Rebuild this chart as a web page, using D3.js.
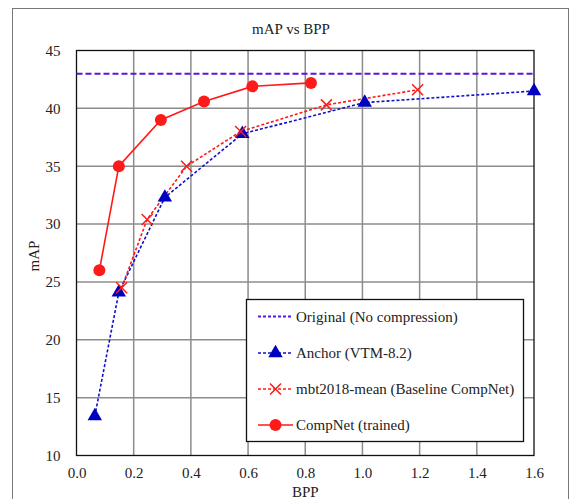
<!DOCTYPE html>
<html><head><meta charset="utf-8">
<script src="https://cdn.jsdelivr.net/npm/d3@7"></script>
<style>body{margin:0;background:#fff;} svg{display:block;} text{font-family:"Liberation Serif","Times New Roman","DejaVu Serif",serif;}</style>
</head><body>
<svg id="c" width="571" height="499"></svg>
<script>
const xTicks = [0.0,0.2,0.4,0.6,0.8,1.0,1.2,1.4,1.6];
const yTicks = [10,15,20,25,30,35,40,45];
const originalMAP = 43.0;
const anchorBPP = [0.064,0.148,0.309,0.580,1.008,1.600];
const anchorMAP = [13.4,24.1,32.3,37.8,40.5,41.5];
const mbtBPP = [0.158,0.247,0.385,0.574,0.874,1.193];
const mbtMAP = [24.5,30.4,35.0,38.0,40.3,41.6];
const compBPP = [0.080,0.148,0.295,0.446,0.615,0.820];
const compMAP = [26.0,35.0,39.0,40.6,41.9,42.2];
const legendLabels = ["Original (No compression)","Anchor (VTM-8.2)","mbt2018-mean (Baseline CompNet)","CompNet (trained)"];

const svg = d3.select("#c");
const font = '"Liberation Serif","Times New Roman","DejaVu Serif",serif';
const L=76.5,R=534,T=50.5,B=455.5;
const x = d3.scaleLinear().domain([0,1.6]).range([L,R]);
const y = d3.scaleLinear().domain([10,45]).range([B,T]);

svg.append("rect").attr("x",12.5).attr("y",8.5).attr("width",556).attr("height",500)
  .attr("fill","#fff").attr("stroke","#777").attr("stroke-width",1);

svg.append("text").attr("x",291).attr("y",34).attr("text-anchor","middle")
  .style("font-family",font).attr("font-size",15).attr("fill","#222").text("mAP vs BPP");

const g = svg.append("g");
g.selectAll(".vx").data(xTicks.slice(1,-1)).join("line")
  .attr("x1",d=>x(d)).attr("x2",d=>x(d)).attr("y1",T).attr("y2",B)
  .attr("stroke","#8c8c8c").attr("stroke-width",1.5);
g.selectAll(".hy").data(yTicks.slice(1,-1)).join("line")
  .attr("x1",L).attr("x2",R).attr("y1",d=>y(d)).attr("y2",d=>y(d))
  .attr("stroke","#8c8c8c").attr("stroke-width",1.5);
svg.append("rect").attr("x",L).attr("y",T).attr("width",R-L).attr("height",B-T)
  .attr("fill","none").attr("stroke","#111").attr("stroke-width",1.3);

const xAxis = svg.append("g").attr("transform",`translate(0,${B})`)
  .call(d3.axisBottom(x).tickValues(xTicks).tickFormat(d3.format(".1f")).tickSize(0).tickPadding(12));
const yAxis = svg.append("g").attr("transform",`translate(${L},0)`)
  .call(d3.axisLeft(y).tickValues(yTicks).tickFormat(d3.format("d")).tickSize(0).tickPadding(16));
[xAxis,yAxis].forEach(a=>{
  a.select(".domain").remove();
  a.selectAll("text").style("font-family",font).attr("font-size",15).attr("fill","#222");
});

svg.append("text").attr("x",x(0.8)).attr("y",497).attr("text-anchor","middle")
  .style("font-family",font).attr("font-size",15).attr("fill","#222").text("BPP");
svg.append("text").attr("transform","translate(39,256) rotate(-90)").attr("text-anchor","middle")
  .style("font-family",font).attr("font-size",15).attr("fill","#222").text("mAP");

const line = d3.line().x(d=>x(d[0])).y(d=>y(d[1]));
const zip = (a,b)=>a.map((v,i)=>[v,b[i]]);
const anchorPts = zip(anchorBPP,anchorMAP);
const mbtPts = zip(mbtBPP,mbtMAP);
const compPts = zip(compBPP,compMAP);

svg.append("line").attr("x1",L).attr("x2",R).attr("y1",y(originalMAP)).attr("y2",y(originalMAP))
  .attr("stroke","#5a16e0").attr("stroke-width",2).attr("stroke-dasharray","6,3");

const blue="#1010c8", red="#ff1a1a";
svg.append("path").datum(anchorPts).attr("d",line).attr("fill","none")
  .attr("stroke",blue).attr("stroke-width",1.6).attr("stroke-dasharray","3,2");
svg.append("path").datum(mbtPts).attr("d",line).attr("fill","none")
  .attr("stroke",red).attr("stroke-width",1.6).attr("stroke-dasharray","3,2");
svg.append("path").datum(compPts).attr("d",line).attr("fill","none")
  .attr("stroke",red).attr("stroke-width",1.6);

const tri = d3.symbol().type(d3.symbolTriangle).size(90);
function drawTri(sel,pts){
  sel.selectAll(null).data(pts).join("path").attr("d",tri)
    .attr("transform",d=>`translate(${x(d[0])},${y(d[1])})`).attr("fill","#0000c0");
}
function drawX(sel,pts){
  sel.selectAll(null).data(pts).join("path")
    .attr("d","M-5.5,-5.5L5.5,5.5M-5.5,5.5L5.5,-5.5")
    .attr("transform",d=>`translate(${x(d[0])},${y(d[1])})`).attr("stroke",red).attr("stroke-width",1.5).attr("fill","none");
}
function drawC(sel,pts){
  sel.selectAll(null).data(pts).join("circle").attr("cx",d=>x(d[0])).attr("cy",d=>y(d[1]))
    .attr("r",6).attr("fill",red);
}
drawTri(svg.append("g"),anchorPts);
drawX(svg.append("g"),mbtPts);
drawC(svg.append("g"),compPts);

const lg = svg.append("g");
lg.append("rect").attr("x",246.5).attr("y",299.5).attr("width",277).attr("height",142)
  .attr("fill","#fff").attr("stroke","#111").attr("stroke-width",1.3);
const rows=[316.5,353,389,425];
const lx1=258, lx2=293, lm=275.5;
legendLabels.forEach((t,i)=>{
  const yy=rows[i];
  const colr = i===0?"#5a16e0":(i===1?blue:red);
  lg.append("line").attr("x1",lx1).attr("x2",lx2).attr("y1",yy).attr("y2",yy)
    .attr("stroke",colr).attr("stroke-width",i===0?1.8:1.6)
    .attr("stroke-dasharray",i===3?null:"3,2");
  if(i===1) drawTri(lg.append("g"),[[x.invert(lm),y.invert(yy)]]);
  if(i===2) drawX(lg.append("g"),[[x.invert(lm),y.invert(yy)]]);
  if(i===3) drawC(lg.append("g"),[[x.invert(lm),y.invert(yy)]]);
  lg.append("text").attr("x",296).attr("y",yy+5).style("font-family",font).attr("font-size",15)
    .attr("fill","#222").text(t);
});
</script>
</body></html>
